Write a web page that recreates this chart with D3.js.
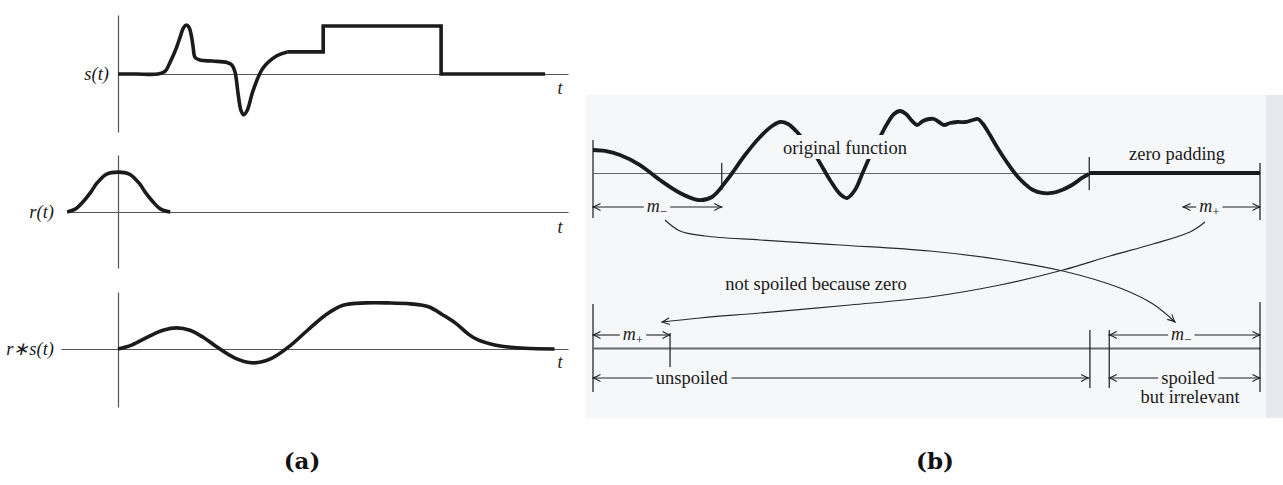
<!DOCTYPE html>
<html>
<head>
<meta charset="utf-8">
<script src="https://cdn.jsdelivr.net/npm/d3@7"></script>
<style>
  html, body { margin: 0; padding: 0; background: #ffffff; }
  svg { display: block; }
  .lbl { font-family: "Liberation Serif", "Times New Roman", serif; fill: #1a1a1a; }
  .ital { font-style: italic; }
</style>
</head>
<body>
<svg id="fig" width="1283" height="485"></svg>
<script>
// ---------- panel (a): signal, response, convolution ----------
// smooth part of s(t)
const sT = [0, 4, 8.9, 10.5, 11.6, 13, 13.8, 14.6, 15.2, 15.8, 16.3, 16.7, 17.1, 18.2, 21, 24.2, 25.3, 26, 26.7, 27.3, 27.9, 28.7, 30, 32.2, 35.3, 37.6];
const sV = [0, 0, 0, 0.06, 0.25, 0.55, 0.77, 0.97, 1.02, 0.97, 0.8, 0.56, 0.35, 0.29, 0.27, 0.24, 0.19, 0.04, -0.42, -0.75, -0.85, -0.76, -0.35, 0.12, 0.38, 0.46];
// piecewise-constant part of s(t)
const stepT = [37.6, 45.6, 71.8, 94.9];
const stepV = [0.46, 1.0, 0.0, 0.0];
// response r(t)
const rT = [-11.3, -9.5, -7.8, -6, -4.7, -2.5, 0, 2.5, 4.7, 6, 7.8, 9.5, 11.6];
const rV = [0, 0.06, 0.21, 0.42, 0.6, 0.79, 0.83, 0.79, 0.6, 0.42, 0.21, 0.06, 0];
// convolution r*s(t)
const rsT = [0, 3, 7, 10, 13, 16, 19, 22, 26, 30, 34, 38, 42, 46, 50, 55, 60, 65, 69, 72, 75, 78, 80, 84, 88, 92, 97];
const rsV = [0, 0.08, 0.27, 0.39, 0.44, 0.39, 0.24, 0.04, -0.19, -0.29, -0.2, 0.05, 0.38, 0.7, 0.91, 0.96, 0.96, 0.94, 0.88, 0.72, 0.54, 0.3, 0.19, 0.08, 0.03, 0.01, 0];
const panelATitles = ["s(t)", "r(t)", "r\u2217s(t)"];
const axisVar = "t";

// ---------- panel (b): zero padding ----------
const origT = [0, 1.8, 4.05, 7.05, 10.04, 13.04, 15.74, 17.84, 20.09, 22.79, 25.04, 26.84, 28.04, 29.24, 30.58, 32.08, 33.58, 35.53, 37.03, 38.08, 39.28, 40.48, 41.83, 43.03, 44.08, 45.13, 46.03, 46.93, 47.83, 48.58, 49.48, 50.37, 51.12, 51.87, 52.62, 53.52, 54.57, 55.92, 56.97, 57.72, 58.47, 59.52, 60.57, 61.62, 62.67, 63.72, 64.77, 65.97, 67.32, 68.82, 70.31, 71.81, 73.31, 74.36];
const origV = [0.383, 0.367, 0.30, 0.133, -0.117, -0.333, -0.45, -0.40, -0.117, 0.30, 0.60, 0.783, 0.85, 0.817, 0.683, 0.483, 0.25, -0.117, -0.35, -0.417, -0.283, 0.017, 0.35, 0.60, 0.817, 0.983, 1.033, 0.983, 0.867, 0.80, 0.867, 0.90, 0.90, 0.85, 0.80, 0.833, 0.85, 0.85, 0.883, 0.90, 0.817, 0.633, 0.433, 0.25, 0.083, -0.067, -0.183, -0.283, -0.333, -0.333, -0.283, -0.20, -0.083, -0.017];
const padT = [74.4, 100];
const padV = [0, 0];
// dimension arrows: [from, to, label centre, label, subscript]
const dimTop = [[0, 19.3, 9.6, "m", "\u2212"], [88.45, 100, 92.4, "m", "+"]];
const dimBottom = [[0, 11.55, 6.0, "m", "+"], [77.4, 100, 88.2, "m", "\u2212"]];
const spanRow = [[0, 74.3, 14.8, "unspoiled"], [77.4, 100, 89.2, "spoiled"]];
const panelLabels = ["(a)", "(b)"];

const svg = d3.select("#fig");

// faint page tone of panel (b)
svg.append("rect").attr("x", 586).attr("y", 95).attr("width", 680).attr("height", 323).attr("fill", "#f6f7f9");
svg.append("rect").attr("x", 1266).attr("y", 95).attr("width", 17).attr("height", 323).attr("fill", "#e6e9ef");

const defs = svg.append("defs");
defs.append("marker")
  .attr("id", "tip").attr("viewBox", "-9 -5 10 10")
  .attr("refX", 0).attr("refY", 0)
  .attr("markerWidth", 10).attr("markerHeight", 10)
  .attr("markerUnits", "userSpaceOnUse")
  .attr("orient", "auto-start-reverse")
  .append("path")
  .attr("d", "M-7.5,-3.4 Q-3,-0.9 0,0 Q-3,0.9 -7.5,3.4")
  .attr("fill", "none").attr("stroke", "#222").attr("stroke-width", 1.1);

const axisStyle = g => g.select(".domain").attr("stroke", "#555").attr("stroke-width", 1.2);

// ===== panel (a) =====
const xA = d3.scaleLinear().domain([0, 100]).range([118, 568]);
const rows = [
  { y: d3.scaleLinear().domain([0, 1]).range([74, 26]), left: 118, vTop: 15, vBot: 132, tY: 88 },
  { y: d3.scaleLinear().domain([0, 1]).range([212, 164]), left: 67, vTop: 155, vBot: 268, tY: 227 },
  { y: d3.scaleLinear().domain([0, 1]).range([349, 301]), left: 61, vTop: 292, vBot: 407, tY: 362 }
];
const labelRight = [109, 54, 54];

rows.forEach((r, i) => {
  // horizontal t axis
  const hx = d3.scaleLinear().domain([xA.invert(r.left), 100]).range([r.left, xA(100)]);
  svg.append("g").attr("transform", `translate(0,${r.y(0)})`)
    .call(d3.axisBottom(hx).tickValues([]).tickSizeOuter(0)).call(axisStyle);
  // vertical axis
  const vy = d3.scaleLinear().domain([r.y.invert(r.vBot), r.y.invert(r.vTop)]).range([r.vBot, r.vTop]);
  svg.append("g").attr("transform", `translate(${xA(0)},0)`)
    .call(d3.axisLeft(vy).tickValues([]).tickSizeOuter(0)).call(axisStyle);
  svg.append("text").attr("class", "lbl ital")
    .attr("x", labelRight[i]).attr("y", r.y(0)).attr("dy", "0.33em")
    .attr("text-anchor", "end").attr("font-size", 18.5).text(panelATitles[i]);
  svg.append("text").attr("class", "lbl ital")
    .attr("x", 560).attr("y", r.tY).attr("dy", "0.33em")
    .attr("text-anchor", "middle").attr("font-size", 18).text(axisVar);
});

const thick = { stroke: "#1b1b1b", width: 3.6 };
function trace(xs, ys, xScale, yScale, curve) {
  return d3.line().x((d, i) => xScale(xs[i])).y((d, i) => yScale(ys[i])).curve(curve)(xs);
}
svg.append("path").attr("d", trace(sT, sV, xA, rows[0].y, d3.curveCatmullRom.alpha(0.5)))
  .attr("fill", "none").attr("stroke", thick.stroke).attr("stroke-width", thick.width).attr("stroke-linejoin", "round");
svg.append("path").attr("d", trace(stepT, stepV, xA, rows[0].y, d3.curveStepAfter))
  .attr("fill", "none").attr("stroke", thick.stroke).attr("stroke-width", thick.width).attr("stroke-linejoin", "miter");
svg.append("path").attr("d", trace(rT, rV, xA, rows[1].y, d3.curveCatmullRom.alpha(0.5)))
  .attr("fill", "none").attr("stroke", thick.stroke).attr("stroke-width", thick.width).attr("stroke-linejoin", "round");
svg.append("path").attr("d", trace(rsT, rsV, xA, rows[2].y, d3.curveCatmullRom.alpha(0.5)))
  .attr("fill", "none").attr("stroke", thick.stroke).attr("stroke-width", thick.width).attr("stroke-linejoin", "round");

// ===== panel (b) =====
const xB = d3.scaleLinear().domain([0, 100]).range([593, 1260]);
const yB = d3.scaleLinear().domain([-1, 1]).range([233, 113]);
const yLow = 348;

svg.append("g").attr("transform", `translate(0,${yB(0)})`)
  .call(d3.axisBottom(xB).tickValues([]).tickSizeOuter(0))
  .call(g => g.select(".domain").attr("stroke", "#666").attr("stroke-width", 1.2));
svg.append("g").attr("transform", `translate(0,${yLow})`)
  .call(d3.axisBottom(xB).tickValues([]).tickSizeOuter(0))
  .call(g => g.select(".domain").attr("stroke", "#6a6a6a").attr("stroke-width", 2));

// vertical delimiters
const vlines = [
  [0, 140, 218], [19.3, 163, 190], [74.4, 157, 190], [100, 163, 220],
  [0, 304, 392], [11.55, 333, 367], [74.5, 330, 388], [77.4, 330, 388], [100, 302, 392]
];
svg.append("g").selectAll("line").data(vlines).join("line")
  .attr("x1", d => xB(d[0])).attr("x2", d => xB(d[0]))
  .attr("y1", d => d[1]).attr("y2", d => d[2])
  .attr("stroke", "#2a2a2a").attr("stroke-width", 1.3);

// original function and zero padding
svg.append("path").attr("d", trace(origT, origV, xB, yB, d3.curveCatmullRom.alpha(0.5)))
  .attr("fill", "none").attr("stroke", thick.stroke).attr("stroke-width", 3.8).attr("stroke-linejoin", "round");
svg.append("path").attr("d", trace(padT, padV, xB, yB, d3.curveLinear))
  .attr("fill", "none").attr("stroke", thick.stroke).attr("stroke-width", 4);

// label over the curve, with a knock-out behind it
const fnLbl = svg.append("g");
fnLbl.append("rect").attr("x", 781).attr("y", 135).attr("width", 128).attr("height", 24).attr("fill", "#f6f7f9");
fnLbl.append("text").attr("class", "lbl").attr("x", 845).attr("y", 154)
  .attr("text-anchor", "middle").attr("font-size", 18.5).text("original function");
svg.append("text").attr("class", "lbl").attr("x", 1177).attr("y", 160)
  .attr("text-anchor", "middle").attr("font-size", 18.5).text("zero padding");

// dimension arrows with a label in a gap
function dimension(from, to, centre, y, txt, sub) {
  const t = svg.append("text").attr("class", "lbl").attr("x", xB(centre)).attr("y", y).attr("dy", "0.3em")
    .attr("text-anchor", "middle").attr("font-size", sub ? 18 : 18.5);
  if (sub) {
    t.append("tspan").attr("font-style", "italic").text(txt);
    t.append("tspan").attr("font-size", 13).attr("dy", 4).text(sub);
  } else {
    t.text(txt);
  }
  const bb = t.node().getBBox();
  const gl = bb.x - 3, gr = bb.x + bb.width + 3;
  svg.append("line").attr("x1", xB(from)).attr("x2", gl).attr("y1", y).attr("y2", y)
    .attr("stroke", "#222").attr("stroke-width", 1.1).attr("marker-start", "url(#tip)");
  svg.append("line").attr("x1", gr).attr("x2", xB(to)).attr("y1", y).attr("y2", y)
    .attr("stroke", "#222").attr("stroke-width", 1.1).attr("marker-end", "url(#tip)");
}
dimTop.forEach(d => dimension(d[0], d[1], d[2], 207, d[3], d[4]));
dimBottom.forEach(d => dimension(d[0], d[1], d[2], 335, d[3], d[4]));
spanRow.forEach(d => dimension(d[0], d[1], d[2], 378, d[3], null));
svg.append("text").attr("class", "lbl").attr("x", 1190).attr("y", 403)
  .attr("text-anchor", "middle").attr("font-size", 18.5).text("but irrelevant");

// crossing arrows: where each end region wraps to
const wrapMinus = [[665, 220], [680, 231], [705, 236], [760, 240], [840, 245], [930, 251], [1003, 260], [1063, 271], [1120, 288], [1153, 304], [1175, 322]];
const wrapPlus = [[1205, 222], [1190, 232], [1153, 244], [1110, 256], [1063, 270], [1000, 285], [930, 297], [850, 305], [760, 313], [700, 318], [662, 322]];
[wrapMinus, wrapPlus].forEach(pts => {
  svg.append("path").attr("d", d3.line().curve(d3.curveCatmullRom.alpha(0.5))(pts))
    .attr("fill", "none").attr("stroke", "#2a2a2a").attr("stroke-width", 1.2)
    .attr("marker-end", "url(#tip)");
});
svg.append("text").attr("class", "lbl").attr("x", 816).attr("y", 290)
  .attr("text-anchor", "middle").attr("font-size", 18.5).text("not spoiled because zero");

// sub-figure captions
svg.selectAll("text.cap").data(panelLabels).join("text").attr("class", "cap")
  .attr("x", (d, i) => [302, 935][i]).attr("y", 469)
  .attr("text-anchor", "middle")
  .attr("font-family", "'DejaVu Serif', serif").attr("font-weight", "bold")
  .attr("font-size", 23).attr("fill", "#111").text(d => d);
</script>
</body>
</html>
